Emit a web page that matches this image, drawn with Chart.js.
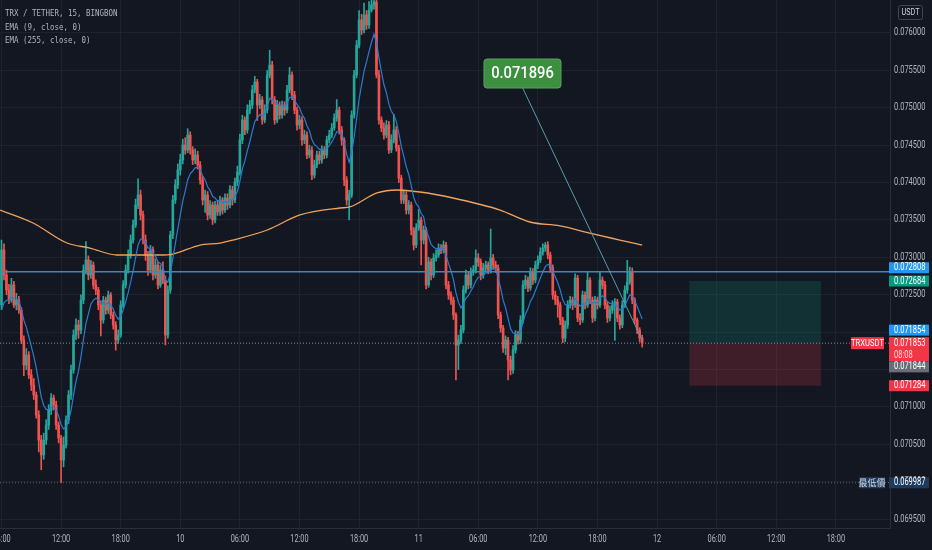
<!DOCTYPE html>
<html>
<head>
<meta charset="utf-8">
<script src="https://cdn.jsdelivr.net/npm/chart.js@4.4.1/dist/chart.umd.min.js"></script>
<style>
  html, body { margin: 0; padding: 0; background: #131722; }
  #wrap { width: 932px; height: 550px; position: relative; }
</style>
</head>
<body>
<div id="wrap"><canvas id="c"></canvas></div>
<script>
// precios x 1e6, velas de 15 min desde el dia 9 a las 06:00
const firstOpen = 72363;
const closes = [
  73099,72764,72564,72430,72631,72363,72430,72296,71895,71561,
  71695,71428,71294,71160,70893,70558,70358,70558,70759,70959,
  71120,71026,70759,70585,70291,70491,70826,71160,71494,71962,
  72096,72029,72430,72831,72965,72764,72898,72631,72564,72363,
  72163,72430,72296,72497,72229,72096,71895,71962,72363,72631,
  72831,73032,73232,73433,73700,73834,73566,73232,73032,72831,
  73099,72764,72898,72631,72831,72697,71962,72564,73299,73767,
  73968,74168,74302,74503,74436,74636,74436,74302,74369,74235,
  74034,73767,73834,73566,73700,73500,73700,73607,73767,73633,
  73794,73700,73901,73767,74008,74141,74570,74837,74703,74970,
  75037,75238,75345,75037,75104,74837,74970,75438,75572,75104,
  74837,75037,74904,75037,74970,75238,75438,75171,74970,74770,
  74837,74570,74636,74369,74436,74101,74235,74369,74302,74436,
  74369,74570,74636,74730,74863,74970,74703,74570,74034,73767,
  73834,74904,75438,75839,76174,76040,76240,76107,76307,76374,
  76414,75438,74837,74730,74636,74770,74436,74570,74703,74462,
  74061,73767,73834,73633,73700,73366,73165,73393,73500,73232,
  73366,72631,72938,72764,72992,73032,73125,73099,73165,72631,
  72497,72430,72229,71828,71895,72029,72564,72764,72631,72804,
  72831,72992,72938,72764,72858,72898,72831,72992,72898,72858,
  72229,72056,71788,71895,71628,71494,71762,71962,71895,72163,
  72631,72697,72590,72804,72697,72898,72965,73072,73125,73165,
  73032,72858,72497,72430,72363,72163,71922,72096,72363,72430,
  72363,72724,72189,72163,72497,72363,72697,72430,72189,72430,
  72363,72697,72631,72363,72189,72296,72363,72403,72189,72096,
  72363,72564,72671,72804,72430,72163,72029,71922,71853
];
const highs = [
  73232,73180,72830,72640,72720,72680,72520,72480,72330,71950,
  71780,71740,71500,71380,71200,70950,70620,70650,70830,71030,
  71180,71160,71080,70800,70620,70600,70880,71220,71560,72030,
  72180,72160,72500,72900,73210,73020,72960,72940,72700,72600,
  72420,72480,72470,72550,72530,72270,72140,72030,72420,72690,
  72900,73100,73300,73500,73780,74050,73900,73620,73300,73080,
  73160,73140,72980,72940,72890,72940,72750,72620,73350,73830,
  74040,74250,74380,74580,74600,74720,74680,74480,74450,74420,
  74280,74080,73900,73880,73760,73740,73750,73760,73820,73800,
  73850,73850,73960,73950,74060,74220,74650,74900,74880,75040,
  75100,75300,75420,75380,75180,75150,75040,75500,75770,75620,
  75150,75100,75080,75090,75080,75300,75540,75480,75220,75010,
  74900,74880,74700,74680,74500,74480,74300,74420,74420,74490,
  74480,74620,74700,74790,74920,75110,75010,74750,74600,74080,
  73900,74960,75500,75900,76300,76250,76400,76300,76420,76480,
  76560,76520,75500,74880,74800,74830,74820,74640,74910,74750,
  74500,74100,73900,73880,73760,73740,73400,73450,73640,73540,
  73420,73400,73000,72980,73050,73100,73180,73170,73220,73200,
  72680,72540,72470,72260,71960,72090,72620,72830,72810,72860,
  72890,73100,73050,72980,72920,72950,72940,73380,73040,72950,
  72900,72270,72090,71950,71930,71680,71820,72020,72010,72220,
  72690,72760,72740,72860,72850,72950,73020,73130,73180,73200,
  73210,73070,72900,72550,72480,72400,72200,72150,72420,72480,
  72470,72780,72760,72250,72550,72540,72800,72730,72470,72480,
  72470,72800,72740,72680,72410,72350,72420,72450,72440,72230,
  72420,72620,72960,72870,72860,72460,72190,72060,71960
];
const lows = [
  72300,72700,72500,72380,72400,72330,72300,72250,71850,71420,
  71500,71380,71220,71100,70850,70400,70160,70300,70500,70700,
  70900,70960,70700,70520,69987,70200,70450,70780,71100,71450,
  71900,71920,71980,72380,72780,72700,72720,72580,72500,72300,
  71950,72120,72240,72250,72180,72040,71760,71850,71930,72320,
  72590,72790,72990,73190,73400,73650,73500,73180,72960,72760,
  72790,72700,72720,72580,72600,72650,71830,71920,72520,73250,
  73720,73920,74100,74250,74380,74400,74380,74240,74250,74180,
  73980,73700,73600,73500,73520,73440,73460,73560,73560,73580,
  73600,73640,73660,73700,73730,73960,74100,74520,74640,74660,
  74920,74990,75200,74830,74990,74780,74800,74930,75400,75050,
  74780,74800,74850,74860,74900,74930,75200,75110,74920,74700,
  74720,74500,74520,74320,74330,74040,74060,74200,74250,74260,
  74320,74330,74530,74600,74700,74820,74650,74500,73960,73700,
  73500,73800,74860,75400,75800,75980,76000,76050,76060,76280,
  76320,75400,74780,74680,74580,74600,74390,74400,74530,74420,
  74000,73720,73720,73580,73580,73300,73100,73130,73360,72900,
  73180,72580,72600,72700,72730,72950,73000,73050,73060,72580,
  72440,72370,72170,71361,71500,71850,71990,72520,72580,72590,
  72760,72790,72880,72700,72720,72810,72780,72790,72840,72800,
  72180,72000,71730,71700,71361,71430,71450,71720,71840,71850,
  72120,72580,72540,72560,72640,72660,72850,72930,73030,73080,
  72980,72800,72440,72370,72200,72100,71860,71870,72050,72320,
  72300,72330,72140,72100,72130,72310,72330,72380,72130,72150,
  72310,72330,72580,72310,72130,72150,72250,71890,72140,72040,
  72060,72330,72520,72640,72380,72110,71980,71870,71800
];

// EMA 9: valor de arranque
const ema9Start = 72100;
// EMA 255 (indice de vela, precio x 1e6)
const emaSlowIdx  = [-0.6, 12.7, 26.4, 35.6, 46.5, 63.8, 69, 80, 88, 93.2, 107, 120.2, 136.3, 140.3, 151.2, 159.3, 168.5, 181.8, 200.8, 212.8, 224.9, 238.2, 249, 258];
const emaSlowVals = [73633, 73460, 73192, 73125, 73032, 73032, 73045, 73165, 73192, 73232, 73366, 73567, 73660, 73674, 73861, 73901, 73874, 73794, 73633, 73473, 73420, 73313, 73232, 73165];

const xTicks = [0, 24, 48, 72, 96, 120, 144, 168, 192, 216, 240, 264, 288, 312, 336];
const xTickLabels = ['06:00','12:00','18:00','10','06:00','12:00','18:00','11','06:00','12:00','18:00','12','06:00','12:00','18:00'];
const yTicks = [0.0695, 0.07, 0.0705, 0.071, 0.0715, 0.072, 0.0725, 0.073, 0.0735, 0.074, 0.0745, 0.075, 0.0755, 0.076];

const hLinePrice = 0.072808;
const lastPrice = 0.071853;
const lowPrice = 0.069987;
const pos = { from: 277, to: 330, target: 0.072684, entry: 0.071853, stop: 0.071284 };
const note = { idx: 209.8, price: 0.075458, toIdx: 258, toPrice: 0.071896, text: '0.071896' };

// etiquetas del eje de precios: valor, color, desplazamiento vertical
const priceTags = [
  { v: 0.072808, bg: '#2196f3', dy: -4 },
  { v: 0.072684, bg: '#089981', dy: 0 },
  { v: 0.071854, bg: '#2196f3', dy: -13 },
  { v: 0.071844, bg: '#6a6d78', dy: 23 },
  { v: 0.071284, bg: '#f23645', dy: 0 },
  { v: 0.069987, bg: '#1c3b5e', dy: 0 }
];

const P = v => v / 1e6;
const idx = closes.map((c, i) => i);
const opens = closes.map((c, i) => i === 0 ? firstOpen : closes[i - 1]);
const candleCols = closes.map((c, i) => c >= opens[i] ? '#26a69a' : '#ef5350');

const ema9 = [];
closes.reduce((prev, c, i) => {
  const e = prev + 0.2 * (c - prev);
  ema9.push({ x: i, y: P(e) });
  return e;
}, ema9Start);

function txt(ctx, s, x, y, size, color, align, sx, fam, weight) {
  ctx.save();
  ctx.translate(x, y);
  ctx.scale(sx, 1);
  ctx.font = (weight || '400') + ' ' + size + 'px ' + (fam || 'Roboto');
  ctx.fillStyle = color;
  ctx.textAlign = align;
  ctx.textBaseline = 'middle';
  ctx.fillText(s, 0, 0);
  ctx.restore();
}

function hline(ctx, area, y, color, width, dash) {
  ctx.save();
  ctx.strokeStyle = color;
  ctx.lineWidth = width;
  ctx.setLineDash(dash);
  ctx.beginPath();
  ctx.moveTo(area.left, y);
  ctx.lineTo(area.right, y);
  ctx.stroke();
  ctx.restore();
}

const overlay = {
  id: 'overlay',
  afterDatasetsDraw(chart) {
    const ctx = chart.ctx, area = chart.chartArea;
    const xs = chart.scales.x, ys = chart.scales.y;

    // caja de posicion larga
    const bx1 = xs.getPixelForValue(pos.from), bx2 = xs.getPixelForValue(pos.to);
    const yT = ys.getPixelForValue(pos.target), yE = ys.getPixelForValue(pos.entry), yS = ys.getPixelForValue(pos.stop);
    ctx.fillStyle = 'rgba(8,153,129,0.2)';
    ctx.fillRect(bx1, yT, bx2 - bx1, yE - yT);
    ctx.fillStyle = 'rgba(242,54,69,0.2)';
    ctx.fillRect(bx1, yE, bx2 - bx1, yS - yE);

    hline(ctx, area, ys.getPixelForValue(hLinePrice), '#3f86c6', 1.5, []);
    hline(ctx, area, ys.getPixelForValue(lastPrice), '#8391a3', 1, [1, 2]);
    hline(ctx, area, ys.getPixelForValue(lowPrice), '#5d6270', 1, [1, 2]);

    // nota con flecha
    const nx = xs.getPixelForValue(note.idx), ny = ys.getPixelForValue(note.price);
    ctx.save();
    ctx.strokeStyle = '#5b9ca8';
    ctx.lineWidth = 1;
    ctx.beginPath();
    ctx.moveTo(nx, ny + 14);
    ctx.lineTo(xs.getPixelForValue(note.toIdx), ys.getPixelForValue(note.toPrice));
    ctx.stroke();
    ctx.fillStyle = '#3b8f3f';
    ctx.strokeStyle = '#5aa55e';
    ctx.beginPath();
    ctx.roundRect(nx - 38.5, ny - 14.5, 77, 29, 3);
    ctx.fill();
    ctx.stroke();
    ctx.restore();
    txt(ctx, note.text, nx, ny + 0.5, 16, '#ffffff', 'center', 0.92, 'Roboto', '500');
  },
  afterDraw(chart) {
    const ctx = chart.ctx, area = chart.chartArea;
    const xs = chart.scales.x, ys = chart.scales.y;

    // leyenda
    const legend = ['TRX / TETHER, 15, BINGBON', 'EMA (9, close, 0)', 'EMA (255, close, 0)'];
    legend.forEach((s, i) => txt(ctx, s, 5, 14 + i * 13.5, 9, '#b2b5be', 'left', 0.83, 'DejaVu Sans Mono'));

    // etiquetas de ejes
    yTicks.forEach(v => txt(ctx, v.toFixed(6), area.right + 4, ys.getPixelForValue(v), 10, '#b2b5be', 'left', 0.75));
    xTicks.forEach((v, i) => txt(ctx, xTickLabels[i], xs.getPixelForValue(v), area.bottom + 11, 10.5, '#b2b5be', 'center', 0.7));

    // etiquetas de precio
    priceTags.forEach(t => {
      const y = ys.getPixelForValue(t.v) + t.dy;
      ctx.fillStyle = t.bg;
      ctx.fillRect(area.right - 1, y - 5.5, 40, 11);
      txt(ctx, t.v.toFixed(6), area.right + 4, y, 10, '#ffffff', 'left', 0.75);
    });
    const yl = ys.getPixelForValue(lastPrice);
    ctx.fillStyle = '#f23645';
    ctx.fillRect(area.right - 1, yl - 6, 40, 24);
    txt(ctx, lastPrice.toFixed(6), area.right + 4, yl, 10, '#ffffff', 'left', 0.75);
    txt(ctx, '08:08', area.right + 4, yl + 12, 10, '#ffd8d8', 'left', 0.75);
    ctx.fillRect(area.right - 39, yl - 6, 33, 12);
    txt(ctx, 'TRXUSDT', area.right - 22.5, yl, 9.5, '#ffffff', 'center', 0.8);

    const ylow = ys.getPixelForValue(lowPrice);
    ctx.fillStyle = '#1c3b5e';
    ctx.fillRect(area.right - 31, ylow - 5.5, 26, 11);
    txt(ctx, '最低價', area.right - 18, ylow, 9, '#d1d4dc', 'center', 1, 'Noto Sans CJK TC');

    // caja USDT
    ctx.save();
    ctx.fillStyle = '#131722';
    ctx.strokeStyle = '#434651';
    ctx.lineWidth = 1;
    ctx.beginPath();
    ctx.roundRect(898.5, 5.5, 24, 14, 2);
    ctx.fill();
    ctx.stroke();
    ctx.restore();
    txt(ctx, 'USDT', 910.5, 12.5, 9, '#d1d4dc', 'center', 0.8);
  }
};

new Chart(document.getElementById('c'), {
  type: 'bar',
  data: {
    datasets: [
      { type: 'line', data: ema9, borderColor: '#2b7bd0', borderWidth: 1.2, pointRadius: 0, order: 0 },
      { type: 'line', data: emaSlowIdx.map((x, i) => ({ x: x, y: P(emaSlowVals[i]) })),
        borderColor: '#f0a25e', borderWidth: 1.3, pointRadius: 0, cubicInterpolationMode: 'monotone', order: 1 },
      { data: idx.map(i => ({ x: i, y: [P(opens[i]), P(closes[i])] })), backgroundColor: candleCols,
        barThickness: 2, minBarLength: 1, grouped: false, order: 2 },
      { data: idx.map(i => ({ x: i, y: [P(lows[i]), P(highs[i])] })), backgroundColor: candleCols,
        barThickness: 1, grouped: false, order: 3 }
    ]
  },
  options: {
    responsive: true,
    maintainAspectRatio: false,
    animation: false,
    layout: { padding: 0 },
    plugins: { legend: { display: false }, tooltip: { enabled: false } },
    scales: {
      x: {
        type: 'linear', min: -0.6, max: 357.8, offset: false,
        afterBuildTicks: s => { s.ticks = xTicks.map(v => ({ value: v })); },
        afterFit: s => { s.height = 22; },
        ticks: { display: false },
        grid: { color: '#1e222d', drawTicks: false, offset: false },
        border: { color: '#2a2e39' }
      },
      y: {
        position: 'right', min: 0.069382, max: 0.076441,
        afterBuildTicks: s => { s.ticks = yTicks.map(v => ({ value: v })); },
        afterFit: s => { s.width = 42; },
        ticks: { display: false },
        grid: { color: '#1e222d', drawTicks: false },
        border: { color: '#2a2e39' }
      }
    }
  },
  plugins: [overlay]
});
</script>
</body>
</html>
